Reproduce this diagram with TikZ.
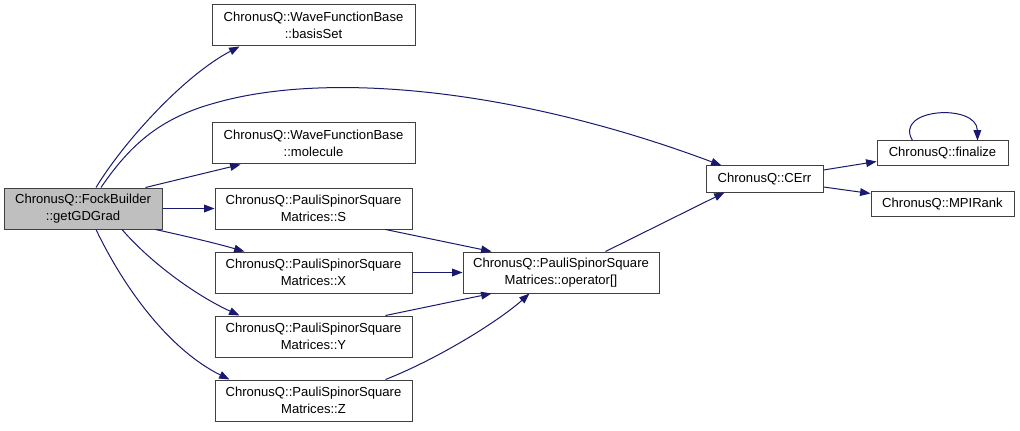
\documentclass[tikz,border=0pt]{standalone}
\usepackage{fontspec}
\setmainfont{Liberation Sans}
\usetikzlibrary{arrows.meta,calc}
\definecolor{edgeblue}{HTML}{191970}
\definecolor{rootgray}{HTML}{BFBFBF}
\definecolor{boxline}{HTML}{404040}
\begin{document}
\begin{tikzpicture}[x=0.75pt,y=-0.75pt,
  box/.style={draw=boxline,line width=0.75pt,fill=white,rectangle,inner sep=0pt,align=center,
    font=\fontsize{9.8pt}{12.4pt}\selectfont},
  twoline/.style={minimum height=41*0.75pt},
  oneline/.style={minimum height=25*0.75pt},
  edge/.style={draw=edgeblue,line width=0.75pt,-{Triangle[length=7.8pt,width=5.8pt]}}]
\useasboundingbox[fill=white] (0,0) rectangle (1020,431);
% nodes
\node[box,twoline,fill=rootgray,minimum width=158*0.75pt] (g) at (83,208.5) {ChronusQ::FockBuilder\\::getGDGrad};
\node[box,twoline,minimum width=203*0.75pt] (bs) at (313.5,25.5) {ChronusQ::WaveFunctionBase\\::basisSet};
\node[box,twoline,minimum width=203*0.75pt] (mol) at (313.5,143.5) {ChronusQ::WaveFunctionBase\\::molecule};
\node[box,twoline,minimum width=197*0.75pt] (S) at (313.5,208.5) {ChronusQ::PauliSpinorSquare\\Matrices::S};
\node[box,twoline,minimum width=197*0.75pt] (X) at (313.5,272.5) {ChronusQ::PauliSpinorSquare\\Matrices::X};
\node[box,twoline,minimum width=197*0.75pt] (Y) at (313.5,336.5) {ChronusQ::PauliSpinorSquare\\Matrices::Y};
\node[box,twoline,minimum width=197*0.75pt] (Z) at (313.5,400.5) {ChronusQ::PauliSpinorSquare\\Matrices::Z};
\node[box,twoline,minimum width=196*0.75pt] (op) at (561,272.5) {ChronusQ::PauliSpinorSquare\\Matrices::operator[]};
\node[box,oneline,minimum width=117*0.75pt,minimum height=26*0.75pt] (cerr) at (764.5,179) {ChronusQ::CErr};
\node[box,oneline,minimum width=131*0.75pt] (fin) at (942.5,153.5) {ChronusQ::finalize};
\node[box,oneline,minimum width=143*0.75pt] (mpi) at (942.5,203.5) {ChronusQ::MPIRank};
% edges from root
\draw[edge] ($(g.north)+(13,0)$) .. controls (125,140) and (185,75) .. ($(bs.south west)+(28,0)$);
\draw[edge] ($(g.north)+(18,0)$) .. controls (130,145) and (160,118) .. (215,103)
   .. controls (330,70) and (520,90) .. ($(cerr.north west)+(16,0)$);
\draw[edge] ($(g.north east)+(-17,0)$) -- ($(mol.south west)+(29,0)$);
\draw[edge] (g.east) -- (S.west);
\draw[edge] ($(g.south east)+(-7,0)$) .. controls (185,236) and (215,243) .. ($(X.north west)+(30,0)$);
\draw[edge] ($(g.south)+(39,0)$) .. controls (150,262) and (195,295) .. ($(Y.north west)+(25,0)$);
\draw[edge] ($(g.south)+(13,0)$) .. controls (125,290) and (170,350) .. ($(Z.north west)+(15,0)$);
% to operator[]
\draw[edge] ($(S.south east)+(-27,0)$) -- ($(op.north west)+(29,0)$);
\draw[edge] (X.east) -- (op.west);
\draw[edge] ($(Y.north east)+(-27,0)$) -- ($(op.south west)+(29,0)$);
\draw[edge] ($(Z.north east)+(-27,0)$) .. controls (440,358) and (500,320) .. ($(op.south west)+(67,0)$);
% to CErr
\draw[edge] ($(op.north east)+(-54,0)$) -- ($(cerr.south west)+(19,0)$);
% from CErr
\draw[edge] ($(cerr.east)+(0,-9)$) -- ($(fin.west)+(0,8)$);
\draw[edge] ($(cerr.east)+(0,8)$) -- ($(mpi.west)+(0,-10)$);
% self loop
\draw[edge] ($(fin.north west)+(36,0)$) .. controls (893,108) and (977,103) .. ($(fin.north east)+(-31,0)$);
\end{tikzpicture}
\end{document}
